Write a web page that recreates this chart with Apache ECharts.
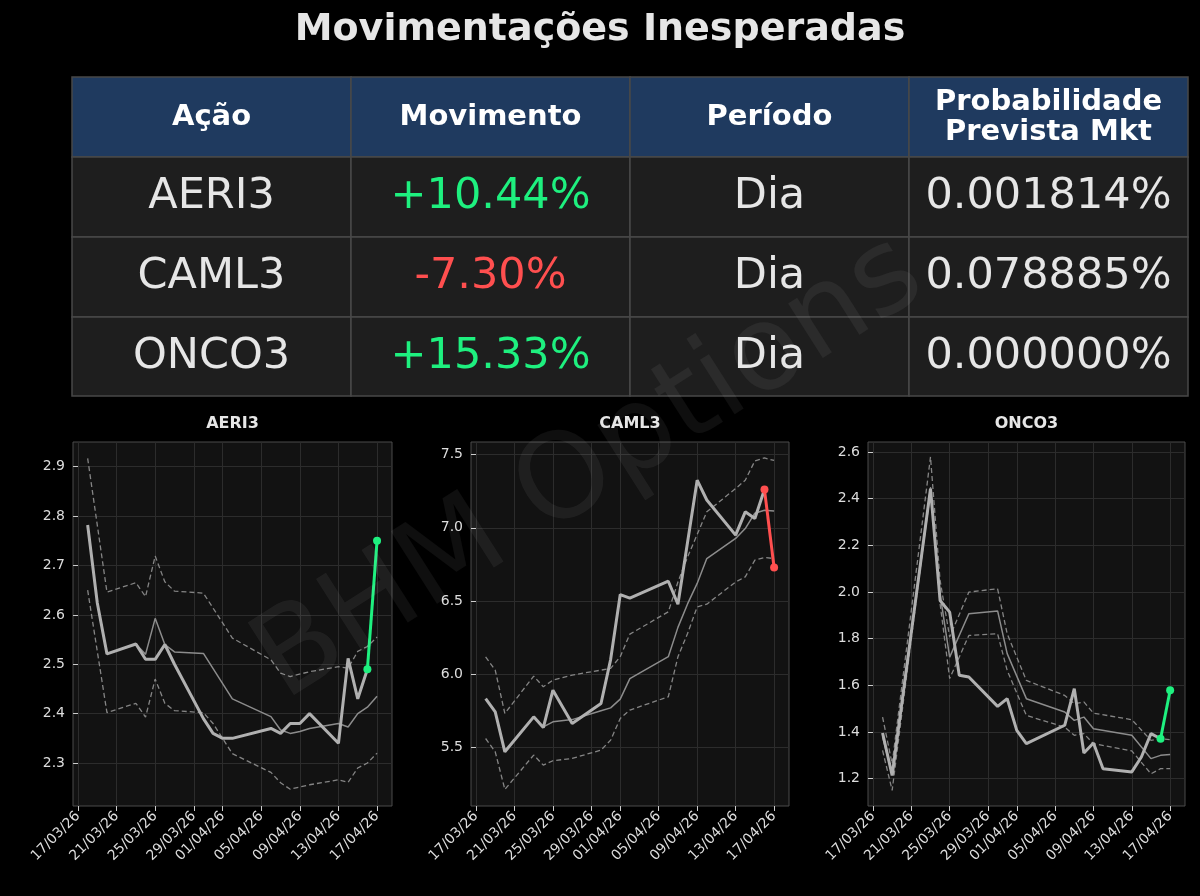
<!DOCTYPE html>
<html><head><meta charset="utf-8">
<script src="https://cdn.jsdelivr.net/npm/echarts@6/dist/echarts.min.js"></script>
<style>html,body{margin:0;background:#000}#c{width:1200px;height:896px}</style>
</head><body><div id="c"></div>
<script>
const title = 'Movimentações Inesperadas';
const headers = ['Ação', 'Movimento', 'Período', 'Probabilidade\nPrevista Mkt'];
const tickers = ['AERI3', 'CAML3', 'ONCO3'];
const moves = ['+10.44%', '-7.30%', '+15.33%'];
const periods = ['Dia', 'Dia', 'Dia'];
const probs = ['0.001814%', '0.078885%', '0.000000%'];
const tickDays = [0, 4, 8, 12, 15, 19, 23, 27, 31];
const tickLabels = ['17/03/26','21/03/26','25/03/26','29/03/26','01/04/26','05/04/26','09/04/26','13/04/26','17/04/26'];

// AERI3 [dayOffset from 17/03, value]
const aeriPrice = [[1,2.782],[2,2.624],[3,2.521],[6,2.541],[7,2.51],[8,2.51],[9,2.54],[10,2.50],[13,2.39],[14,2.36],[15,2.35],[16,2.35],[20,2.37],[21,2.36],[22,2.38],[23,2.38],[24,2.40],[27,2.34],[28,2.512],[29,2.43],[30,2.49]];
const aeriMove = [[30,2.49],[31,2.75]];
const aeriMean = [[1,2.782],[2,2.624],[3,2.521],[6,2.541],[7,2.52],[8,2.593],[9,2.54],[10,2.525],[13,2.522],[16,2.43],[20,2.394],[21,2.367],[22,2.36],[23,2.364],[24,2.37],[27,2.38],[28,2.373],[29,2.40],[30,2.413],[31,2.435]];
const aeriUpper = [[1,2.917],[3,2.646],[6,2.665],[7,2.637],[8,2.719],[9,2.667],[10,2.648],[13,2.644],[16,2.553],[20,2.509],[21,2.482],[22,2.475],[24,2.485],[27,2.495],[28,2.492],[29,2.526],[30,2.536],[31,2.555]];
const aeriLower = [[1,2.65],[3,2.402],[6,2.421],[7,2.393],[8,2.47],[9,2.421],[10,2.406],[13,2.402],[14,2.38],[16,2.319],[20,2.281],[21,2.26],[22,2.247],[24,2.256],[27,2.266],[28,2.261],[29,2.29],[30,2.30],[31,2.32]];

const camlPrice = [[1,5.834],[2,5.743],[3,5.47],[6,5.709],[7,5.636],[8,5.891],[10,5.664],[13,5.80],[14,6.10],[15,6.544],[16,6.52],[20,6.635],[21,6.478],[23,7.325],[24,7.19],[27,6.95],[28,7.109],[29,7.063],[30,7.261]];
const camlMove = [[30,7.261],[31,6.729]];
const camlMean = [[7,5.64],[8,5.675],[10,5.69],[13,5.75],[14,5.77],[15,5.83],[16,5.97],[20,6.12],[21,6.32],[22,6.48],[23,6.62],[24,6.79],[27,6.927],[28,6.995],[29,7.10],[30,7.12],[31,7.115]];
const camlUpper = [[1,6.119],[2,6.028],[3,5.732],[6,5.987],[7,5.914],[8,5.96],[10,5.994],[13,6.028],[14,6.04],[15,6.12],[16,6.274],[20,6.426],[21,6.63],[22,6.80],[24,7.109],[27,7.268],[28,7.325],[29,7.457],[30,7.477],[31,7.46]];
const camlLower = [[1,5.561],[2,5.47],[3,5.213],[6,5.448],[7,5.379],[8,5.409],[10,5.425],[13,5.482],[14,5.55],[15,5.698],[16,5.755],[20,5.846],[21,6.119],[22,6.278],[23,6.46],[24,6.478],[27,6.63],[28,6.665],[29,6.779],[30,6.797],[31,6.79]];

const oncoPrice = [[1,1.396],[2,1.214],[6,2.443],[7,1.964],[8,1.914],[9,1.643],[10,1.636],[13,1.51],[14,1.543],[15,1.407],[16,1.35],[20,1.429],[21,1.586],[22,1.31],[23,1.353],[24,1.243],[27,1.229],[28,1.293],[29,1.393],[30,1.371]];
const oncoMove = [[30,1.371],[31,1.579]];
const oncoMean = [[1,1.38],[2,1.22],[6,2.43],[7,1.99],[8,1.721],[10,1.907],[13,1.919],[14,1.736],[16,1.543],[20,1.486],[21,1.45],[22,1.464],[23,1.414],[27,1.386],[29,1.286],[30,1.30],[31,1.304]];
const oncoUpper = [[1,1.464],[2,1.264],[6,2.579],[7,2.05],[8,1.807],[10,2.0],[13,2.014],[14,1.821],[16,1.621],[20,1.557],[21,1.521],[22,1.529],[23,1.481],[27,1.453],[29,1.364],[30,1.371],[31,1.367]];
const oncoLower = [[1,1.321],[2,1.15],[6,2.45],[7,1.95],[8,1.629],[10,1.814],[13,1.821],[14,1.664],[16,1.471],[20,1.421],[21,1.386],[22,1.393],[23,1.35],[27,1.319],[29,1.221],[30,1.243],[31,1.243]];

const aeriTicks = [2.3,2.4,2.5,2.6,2.7,2.8,2.9];
const camlTicks = [5.5,6.0,6.5,7.0,7.5];
const oncoTicks = [1.2,1.4,1.6,1.8,2.0,2.2,2.4,2.6];

const panels = [
  {name:'AERI3', price:aeriPrice, move:aeriMove, mean:aeriMean, up:aeriUpper, lo:aeriLower, ticks:aeriTicks, min:2.213, max:2.95, color:'#1ef07f', left:73, right:392},
  {name:'CAML3', price:camlPrice, move:camlMove, mean:camlMean, up:camlUpper, lo:camlLower, ticks:camlTicks, min:5.10, max:7.586, color:'#ff4f4f', left:471, right:789},
  {name:'ONCO3', price:oncoPrice, move:oncoMove, mean:oncoMean, up:oncoUpper, lo:oncoLower, ticks:oncoTicks, min:1.083, max:2.643, color:'#1ef07f', left:868, right:1185}
];

const F = 'DejaVu Sans';
const grid=[], xAxis=[], yAxis=[], series=[], graphic=[];
panels.forEach((p,i)=>{
  grid.push({left:p.left, width:p.right-p.left, top:442, height:364, backgroundColor:'#121212', show:true, borderColor:'#4a4a4a', borderWidth:1});
  xAxis.push({type:'value', gridIndex:i, min:-0.52, max:32.55,
    axisLine:{show:false},
    axisTick:{show:true, customValues:tickDays, length:5, lineStyle:{color:'#cccccc'}},
    axisLabel:{customValues:tickDays, rotate:45, color:'#dddddd', fontFamily:F, fontSize:14, margin:8,
      formatter:v=>tickLabels[tickDays.indexOf(v)] || ''},
    splitLine:{show:true, lineStyle:{color:'#2c2c2c', width:1}}});
  yAxis.push({type:'value', gridIndex:i, min:p.min, max:p.max,
    axisLine:{show:false},
    axisTick:{show:true, customValues:p.ticks, length:5, lineStyle:{color:'#cccccc'}},
    axisLabel:{customValues:p.ticks, color:'#dddddd', fontFamily:F, fontSize:14, margin:8, formatter:v=>v.toFixed(1)},
    splitLine:{show:true, lineStyle:{color:'#2c2c2c', width:1}}});
  const base = {type:'line', xAxisIndex:i, yAxisIndex:i, symbol:'none', silent:true, animation:false};
  series.push(Object.assign({}, base, {data:p.up, lineStyle:{color:'#858585', width:1.3, type:[5,3]}, z:2}));
  series.push(Object.assign({}, base, {data:p.lo, lineStyle:{color:'#858585', width:1.3, type:[5,3]}, z:2}));
  series.push(Object.assign({}, base, {data:p.mean, lineStyle:{color:'#8c8c8c', width:1.5}, z:3}));
  series.push(Object.assign({}, base, {data:p.price, lineStyle:{color:'#b0b0b0', width:3}, z:4}));
  series.push(Object.assign({}, base, {data:p.move, symbol:'circle', symbolSize:8, itemStyle:{color:p.color}, lineStyle:{color:p.color, width:3}, z:5}));
  graphic.push({type:'text', x:(p.left+p.right)/2, y:416, style:{text:p.name, fill:'#e6e6e6', font:'bold 16px "DejaVu Sans"', align:'center'}});
});

graphic.push({type:'text', x:600, y:30, style:{text:title, fill:'#e6e6e6', font:'bold 38px "DejaVu Sans"', align:'center', verticalAlign:'middle'}});
const colX=[72,351,630,909,1188];
const rowY=[77,157,237,317,396];
for(let r=0;r<4;r++){
  for(let c=0;c<4;c++){
    graphic.push({type:'rect', shape:{x:colX[c], y:rowY[r], width:colX[c+1]-colX[c], height:rowY[r+1]-rowY[r]},
      style:{fill: r===0 ? '#1f3a5f' : '#1e1e1e', stroke:'#484848', lineWidth:1.5}});
    let txt, fill='#e6e6e6', font='43px "DejaVu Sans"';
    if(r===0){ txt=headers[c]; font='bold 29px "DejaVu Sans"'; fill='#ffffff'; }
    else {
      const k=r-1;
      txt=[tickers[k], moves[k], periods[k], probs[k]][c];
      if(c===1) fill = moves[k].startsWith('-') ? '#ff4f4f' : '#1ef07f';
    }
    graphic.push({type:'text', x:(colX[c]+colX[c+1])/2, y:(rowY[r]+rowY[r+1])/2,
      style:{text:txt, fill, font, align:'center', verticalAlign:'middle', lineHeight: r===0?30:46}, z:10});
  }
}
graphic.push({type:'text', x:590, y:470, rotation:32.5*Math.PI/180, z:100, silent:true,
  style:{text:'BHM Options', fill:'rgba(255,255,255,0.06)', font:'118px "DejaVu Sans"', align:'center', verticalAlign:'middle'}});

const chart = echarts.init(document.getElementById('c'));
chart.setOption({backgroundColor:'#000', animation:false, grid, xAxis, yAxis, series, graphic});
</script></body></html>
